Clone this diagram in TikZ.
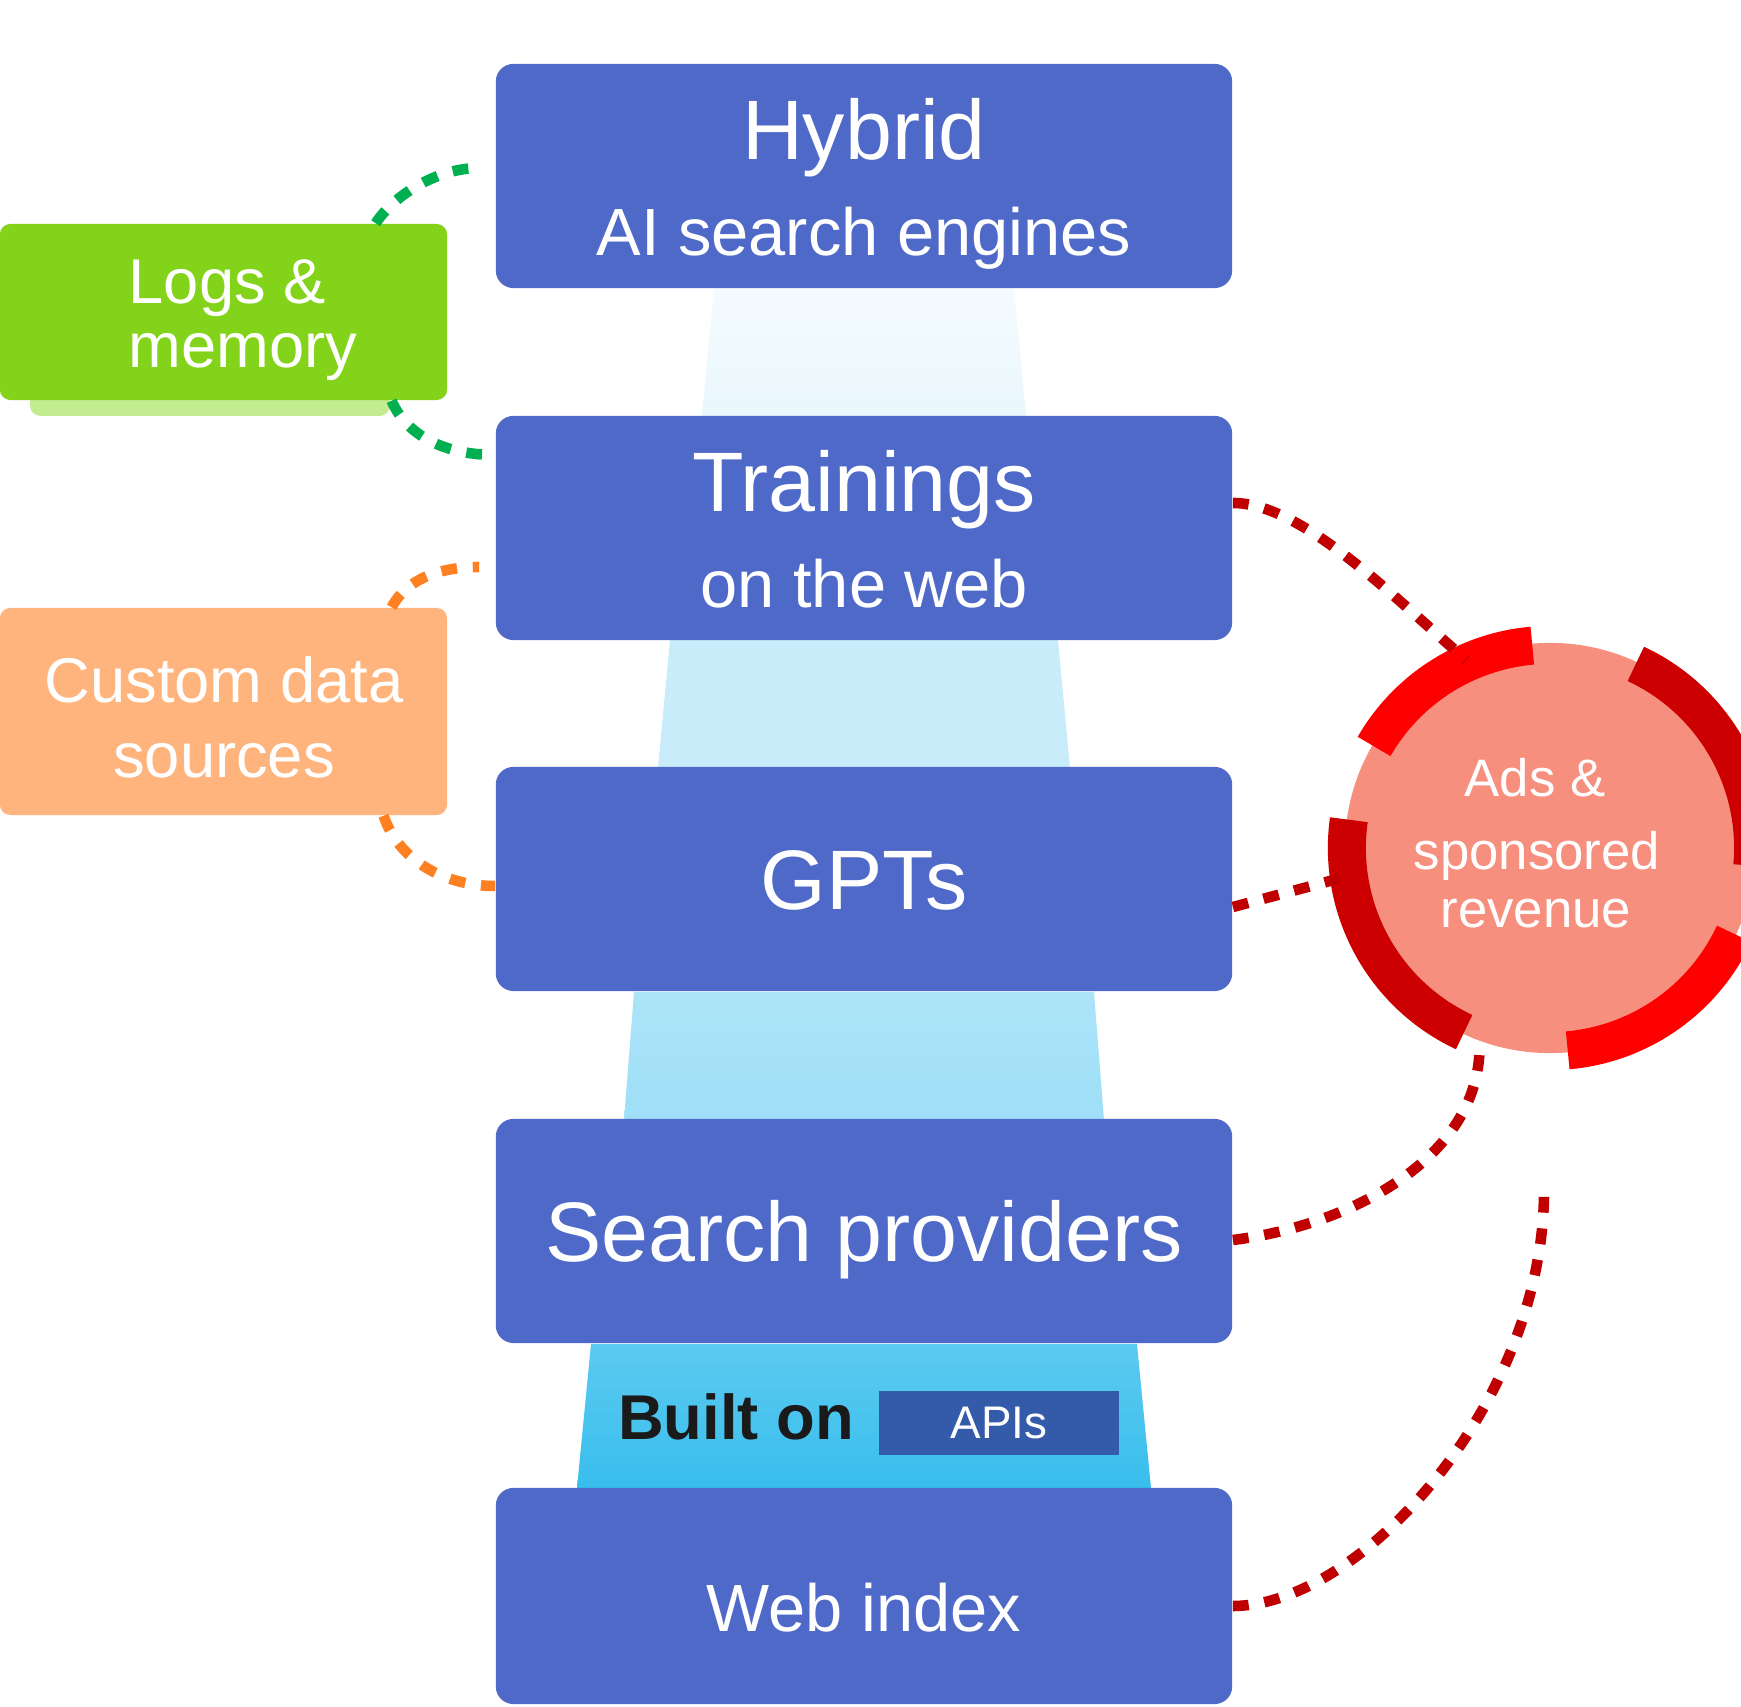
\documentclass[tikz,border=0pt]{standalone}
\usepackage{fontspec}
\setmainfont{Liberation Sans}
\usetikzlibrary{calc}
\definecolor{boxblue}{HTML}{4F69C9}
\definecolor{tA}{HTML}{EAF7FD}
\definecolor{tAtop}{HTML}{F4FBFE}
\definecolor{tB}{HTML}{C8ECFA}
\definecolor{tCtop}{HTML}{ACE4F8}
\definecolor{tCbot}{HTML}{9EDFF7}
\definecolor{tDtop}{HTML}{5CCAF1}
\definecolor{tDbot}{HTML}{38BEEC}
\definecolor{greenbox}{HTML}{82D319}
\definecolor{greenshadow}{HTML}{C3EB8F}
\definecolor{orangebox}{HTML}{FFB47D}
\definecolor{salmon}{HTML}{F78F7E}
\definecolor{brightred}{HTML}{FF0000}
\definecolor{darkred}{HTML}{CC0000}
\definecolor{linkred}{HTML}{C00000}
\definecolor{linkgreen}{HTML}{00B050}
\definecolor{linkorange}{HTML}{FF8020}
\definecolor{badgeblue}{HTML}{345BA9}
\definecolor{labelblack}{HTML}{1A1A1A}
\begin{document}
\begin{tikzpicture}[x=0.01cm,y=-0.01cm,
  layerbox/.style={fill=boxblue, rounded corners=5pt, minimum width=7.36cm, minimum height=2.24cm, inner sep=0pt},
  sidebox/.style={rounded corners=3pt, minimum width=4.47cm, inner sep=0pt},
  ttl/.style={anchor=base, text=white, inner sep=0pt, font=\fontsize{24}{28}\selectfont},
  sub/.style={anchor=base, text=white, inner sep=0pt, font=\fontsize{19}{22}\selectfont},
  sidetxt/.style={anchor=base, text=white, inner sep=0pt, font=\fontsize{18}{21}\selectfont},
  circtxt/.style={anchor=base, text=white, inner sep=0pt, font=\fontsize{15}{18}\selectfont},
  link/.style={line width=3pt, dash pattern=on 4.5pt off 4.5pt},
  redlink/.style={link, linkred},
  greenlink/.style={link, linkgreen},
  orangelink/.style={link, linkorange},
  ring/.style={line width=0.38cm}
]
\useasboundingbox (0,0) rectangle (1741,1707);
\fill[white] (0,0) rectangle (1741,1707);

% funnel trapezoids between layers
\shade[top color=tAtop, bottom color=tA] (714,289) -- (1014,289) -- (1026,416) -- (702,416) -- cycle;
\fill[tB] (670,640) -- (1058,640) -- (1070,768) -- (658,768) -- cycle;
\shade[top color=tCtop, bottom color=tCbot] (634,992) -- (1094,992) -- (1104,1120) -- (624,1120) -- cycle;
\shade[top color=tDtop, bottom color=tDbot] (591,1344) -- (1137,1344) -- (1151,1488) -- (577,1488) -- cycle;

% layers
\node[layerbox] (b1) at (864,176) {};
\node[layerbox] (b2) at (864,528) {};
\node[layerbox] (b3) at (864,879) {};
\node[layerbox] (b4) at (864,1231) {};
\node[layerbox, minimum height=2.16cm] (b5) at (864,1596) {};

\node[ttl] (b1t) at (864,160) {Hybrid};
\node[sub] (b1s) at (864,256) {AI search engines};
\node[ttl] (b2t) at (864,512) {Trainings};
\node[sub] (b2s) at (864,608) {on the web};
\node[ttl] (b3t) at (864,910) {GPTs};
\node[ttl] (b4t) at (864,1262) {Search providers};
\node[sub] (b5t) at (864,1632) {Web index};

% label in the lowest funnel
\node[anchor=base, text=labelblack, inner sep=0pt, font=\bfseries\fontsize{18}{21}\selectfont] (lbl) at (736,1440) {Built on};
\node[fill=badgeblue, text=white, minimum width=2.4cm, minimum height=0.64cm, inner sep=0pt, font=\fontsize{13}{15}\selectfont] (badge) at (999,1423) {APIs};

% green side box
\fill[greenshadow, rounded corners=3pt] (30,392) rectangle (390,416);
\node[sidebox, fill=greenbox, minimum height=1.76cm] (g) at (223.5,312) {};
\node[sidetxt, anchor=base west] (gt1) at (128,304) {Logs \&};
\node[sidetxt, anchor=base west] (gt2) at (128,368) {memory};

% orange side box
\node[sidebox, fill=orangebox, minimum height=2.07cm] (o) at (223.5,711.5) {};
\node[sidetxt] (ot1) at (224,703) {Custom data};
\node[sidetxt] (ot2) at (224,778) {sources};

% red circle
\node[circle, fill=salmon, minimum size=4.1cm, inner sep=0pt] (circ) at (1550,848) {};
\draw[ring, brightred] (circ.center) ++(95:2.03cm) arc[start angle=95, end angle=150, radius=2.03cm];
\draw[ring, darkred] (circ.center) ++(172:2.03cm) arc[start angle=172, end angle=245, radius=2.03cm];
\draw[ring, brightred] (circ.center) ++(275:2.03cm) arc[start angle=275, end angle=335, radius=2.03cm];
\draw[ring, darkred] (circ.center) ++(-5:2.03cm) arc[start angle=-5, end angle=65, radius=2.03cm];
\node[circtxt] (ct1) at (1535,797) {Ads \&};
\node[circtxt] (ct2) at (1537,870) {sponsored};
\node[circtxt] (ct3) at (1536,928) {revenue};

% connectors on the left
\draw[greenlink] ([xshift=1.52cm]g.north) .. controls +(20,-30) and +(-40,0) .. ([xshift=-0.16cm,yshift=0.08cm]b1.west);
\draw[greenlink] ([xshift=1.68cm]g.south) .. controls +(15,35) and +(-50,0) .. ([yshift=0.73cm]b2.west);
\draw[orangelink] ([xshift=1.68cm]o.north) .. controls +(15,-28) and +(-40,0) .. ([xshift=-0.16cm,yshift=-0.39cm]b2.west);
\draw[orangelink] ([xshift=1.6cm]o.south) .. controls +(15,45) and +(-50,0) .. ([yshift=-0.07cm]b3.west);

% connectors on the right
\coordinate (c4end) at (1544,1183);
\draw[redlink] ([yshift=0.25cm]b2.east) .. controls +(70,0) and +(-70,-60) .. (circ.114);
\draw[redlink] ([yshift=-0.28cm]b3.east) -- (circ.188);
\draw[redlink] ([yshift=-0.09cm]b4.east) .. controls +(120,-15) and +(3,115) .. (circ.250);
\draw[redlink] ([yshift=-0.1cm]b5.east) .. controls +(128,0) and +(4,217) .. (c4end);
\end{tikzpicture}
\end{document}
